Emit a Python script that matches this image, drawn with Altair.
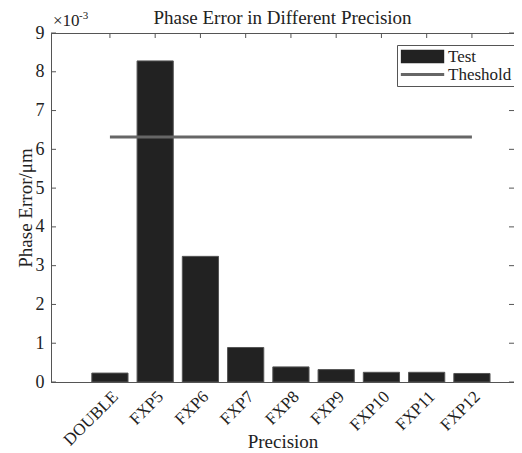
import altair as alt
import pandas as pd

categories = ["DOUBLE", "FXP5", "FXP6", "FXP7", "FXP8", "FXP9", "FXP10", "FXP11", "FXP12"]
errors = [0.23, 8.28, 3.24, 0.89, 0.39, 0.32, 0.25, 0.25, 0.22]  # x 10^-3 um
threshold = 6.32
y_ticks = [0, 1, 2, 3, 4, 5, 6, 7, 8, 9]
legend_items = ["Test", "Theshold"]

W, H = 463, 349
FONT = "Liberation Serif"

bars_df = pd.DataFrame({"Precision": categories, "Error": errors})
thr_df = pd.DataFrame({"Precision": categories, "Threshold": [threshold] * len(categories)})
ytick_df = pd.DataFrame({"v": y_ticks})
leg_df = pd.DataFrame({"Precision": [categories[0]] * 2, "series": legend_items})

xscale = alt.Scale(domain=categories, paddingInner=0.2, paddingOuter=0.716, align=0.63)
yscale = alt.Scale(domain=[0, 9], nice=False)

x_axis = alt.Axis(title="Precision", labelAngle=315, ticks=False,
                  labelFontSize=17, titleFontSize=19, labelPadding=6,
                  titleY=59, titleBaseline="middle", domainColor="#555",
                  labelFont=FONT, titleFont=FONT, labelColor="#222",
                  titleColor="#222", titleFontWeight="normal")
y_axis = alt.Axis(title="Phase Error/μm", values=y_ticks, ticks=False,
                  labelFontSize=18, titleFontSize=19, labelPadding=7,
                  titleX=-26, titleBaseline="middle", grid=False, domainColor="#555",
                  labelFont=FONT, titleFont=FONT, labelColor="#222",
                  titleColor="#222", titleFontWeight="normal")

def X():
    return alt.X("Precision:N", scale=xscale, sort=categories, axis=x_axis, title="Precision")

def Y(field):
    return alt.Y(field, scale=yscale, axis=y_axis, title="Phase Error/μm")

bars = alt.Chart(bars_df).mark_bar(fill="#222222", stroke="#555555", strokeWidth=1).encode(
    x=X(), y=Y("Error:Q"),
)

line = alt.Chart(thr_df).mark_line(color="#666666", strokeWidth=3).encode(
    x=X(), y=Y("Threshold:Q"),
)

legend_pts = alt.Chart(leg_df).mark_point(opacity=0, filled=True).encode(
    x=X(),
    y=alt.value(H),
    color=alt.Color("series:N", scale=alt.Scale(domain=legend_items, range=["#222222", "#666666"]),
                    legend=alt.Legend(title=None, orient="none", legendX=346, legendY=12,
                                      strokeColor="#555", fillColor="white", padding=3,
                                      labelFontSize=17, labelFont=FONT, symbolSize=289,
                                      symbolOpacity=1, symbolStrokeWidth=0, labelOffset=31,
                                      rowPadding=0, labelColor="#222")),
    shape=alt.Shape("series:N", scale=alt.Scale(domain=legend_items,
                    range=["M-0.9,-0.78H4.2V0.78H-0.9Z", "M-0.9,-0.18H4.2V0.18H-0.9Z"]),
                    legend=None),
)

left_ticks = alt.Chart(ytick_df).mark_rule(color="#555").encode(
    y=Y("v:Q"), x=alt.value(0), x2=alt.value(5))
right_ticks = alt.Chart(ytick_df).mark_rule(color="#555").encode(
    y=Y("v:Q"), x=alt.value(W - 5), x2=alt.value(W))
top_ticks = alt.Chart(bars_df).mark_rule(color="#555").encode(
    x=X(), y=alt.value(0), y2=alt.value(5))

exp_base = alt.Chart(bars_df.head(1)).mark_text(text="×10", font=FONT, fontSize=17,
                                                 align="left", baseline="alphabetic", color="#222").encode(
    x=alt.value(2), y=alt.value(-7))
exp_sup = alt.Chart(bars_df.head(1)).mark_text(text="-3", font=FONT, fontSize=11,
                                                align="left", baseline="alphabetic", color="#222").encode(
    x=alt.value(28), y=alt.value(-14))

chart = alt.layer(bars, line, left_ticks, right_ticks, top_ticks, legend_pts, exp_base, exp_sup).properties(
    width=W, height=H,
    title=alt.Title("Phase Error in Different Precision", font=FONT, fontSize=19,
                    fontWeight="normal", color="#222", offset=-18, frame="group"),
    autosize=alt.AutoSizeParams(type="none"),
    padding={"left": 43, "top": 25, "right": 0, "bottom": 71},
    background="white",
).configure_view(stroke="#555", strokeWidth=1)

chart.save("out.html", embed_options={"renderer": "svg", "actions": False})
